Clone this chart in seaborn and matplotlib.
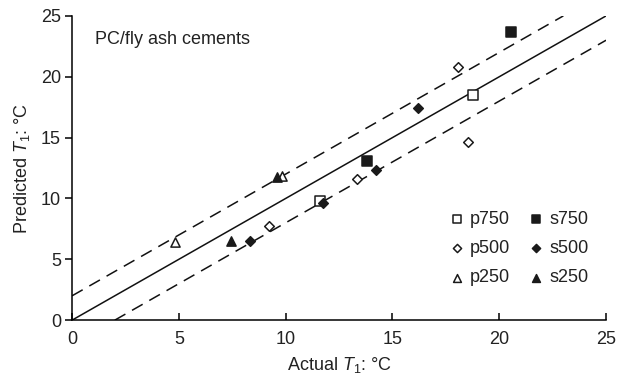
import numpy as np
import pandas as pd
import matplotlib
matplotlib.use("Agg")
import matplotlib.pyplot as plt
import seaborn as sns

# Measured vs. predicted T1 for each cement series
series = ["p750", "p500", "p250", "s750", "s500", "s250"]
p750_actual = [11.63, 18.75]
p750_pred = [9.77, 18.53]
s750_actual = [13.82, 20.55]
s750_pred = [13.07, 23.64]
p500_actual = [9.23, 13.32, 18.05, 18.52]
p500_pred = [7.71, 11.56, 20.80, 14.63]
s500_actual = [8.31, 11.74, 14.24, 16.21]
s500_pred = [6.47, 9.64, 12.36, 17.46]
p250_actual = [4.82, 9.83]
p250_pred = [6.45, 11.83]
s250_actual = [7.42, 9.60]
s250_pred = [6.53, 11.75]

actual = {"p750": p750_actual, "s750": s750_actual, "p500": p500_actual,
          "s500": s500_actual, "p250": p250_actual, "s250": s250_actual}
pred = {"p750": p750_pred, "s750": s750_pred, "p500": p500_pred,
        "s500": s500_pred, "p250": p250_pred, "s250": s250_pred}

rows = []
for s in series:
    for a, p in zip(actual[s], pred[s]):
        rows.append({"actual": a, "predicted": p, "series": s})
df = pd.DataFrame(rows)

ticks = [0, 5, 10, 15, 20, 25]
band = 2.0
FS = 13

sns.set_style("white")
plt.rcParams["font.family"] = ["Liberation Sans", "DejaVu Sans"]
plt.rcParams["font.size"] = FS
plt.rcParams["mathtext.fontset"] = "custom"
plt.rcParams["mathtext.it"] = "Liberation Sans:italic"
plt.rcParams["mathtext.rm"] = "Liberation Sans"

fig = plt.figure(figsize=(6.32, 3.78), dpi=100)
ax = fig.add_axes([0.114, 0.153, 0.845, 0.805])

# 1:1 line and ±2 °C band
lim = 25
ax.plot([0, lim], [0, lim], color="#111111", lw=1.1, zorder=1)
ax.plot([0, lim - band], [band, lim], color="#111111", lw=1.1,
        dashes=(8, 5), zorder=1)
ax.plot([band, lim], [0, lim - band], color="#111111", lw=1.1,
        dashes=(8, 5), zorder=1)

markers = {"p750": "s", "s750": "s", "p500": "D", "s500": "D",
           "p250": "^", "s250": "^"}
sizes = {"s": 42, "D": 24, "^": 44}
for s in series:
    sub = df[df["series"] == s]
    m = markers[s]
    face = "white" if s.startswith("p") else "#1a1a1a"
    sns.scatterplot(data=sub, x="actual", y="predicted", ax=ax, marker=m,
                    s=sizes[m], facecolor=face, edgecolor="#1a1a1a",
                    linewidth=1.1, label=s, zorder=3)

ax.set_xlim(0, 25)
ax.set_ylim(0, 25)
ax.set_xticks(ticks)
ax.set_yticks(ticks)
ax.set_xlabel(r"Actual $T_1$: °C", fontsize=FS, labelpad=5, color="#222222")
ax.set_ylabel(r"Predicted $T_1$: °C", fontsize=FS, labelpad=6,
              color="#222222")
for side in ["top", "right"]:
    ax.spines[side].set_visible(False)
for side in ["left", "bottom"]:
    ax.spines[side].set_color("black")
    ax.spines[side].set_linewidth(1.1)
ax.tick_params(axis="y", direction="out", length=5, width=1.1,
               left=True, labelsize=FS, colors="#222222", pad=3)
ax.tick_params(axis="x", direction="in", length=5, width=1.1,
               bottom=True, labelsize=FS, colors="#222222", pad=8)
ax.tick_params(axis="both", color="black")

ax.text(1.07, 23.1, "PC/fly ash cements", fontsize=FS, color="#222222",
        va="center", ha="left")

handles, labels = ax.get_legend_handles_labels()
ax.legend(handles, labels, ncol=2, frameon=False, loc="upper left",
          bbox_to_anchor=(0.683, 0.388), borderpad=0, handletextpad=0.15,
          columnspacing=0.8, labelspacing=0.67, fontsize=FS,
          handlelength=1.2, markerscale=0.85, labelcolor="#222222")

fig.savefig("out.png", dpi=100)
